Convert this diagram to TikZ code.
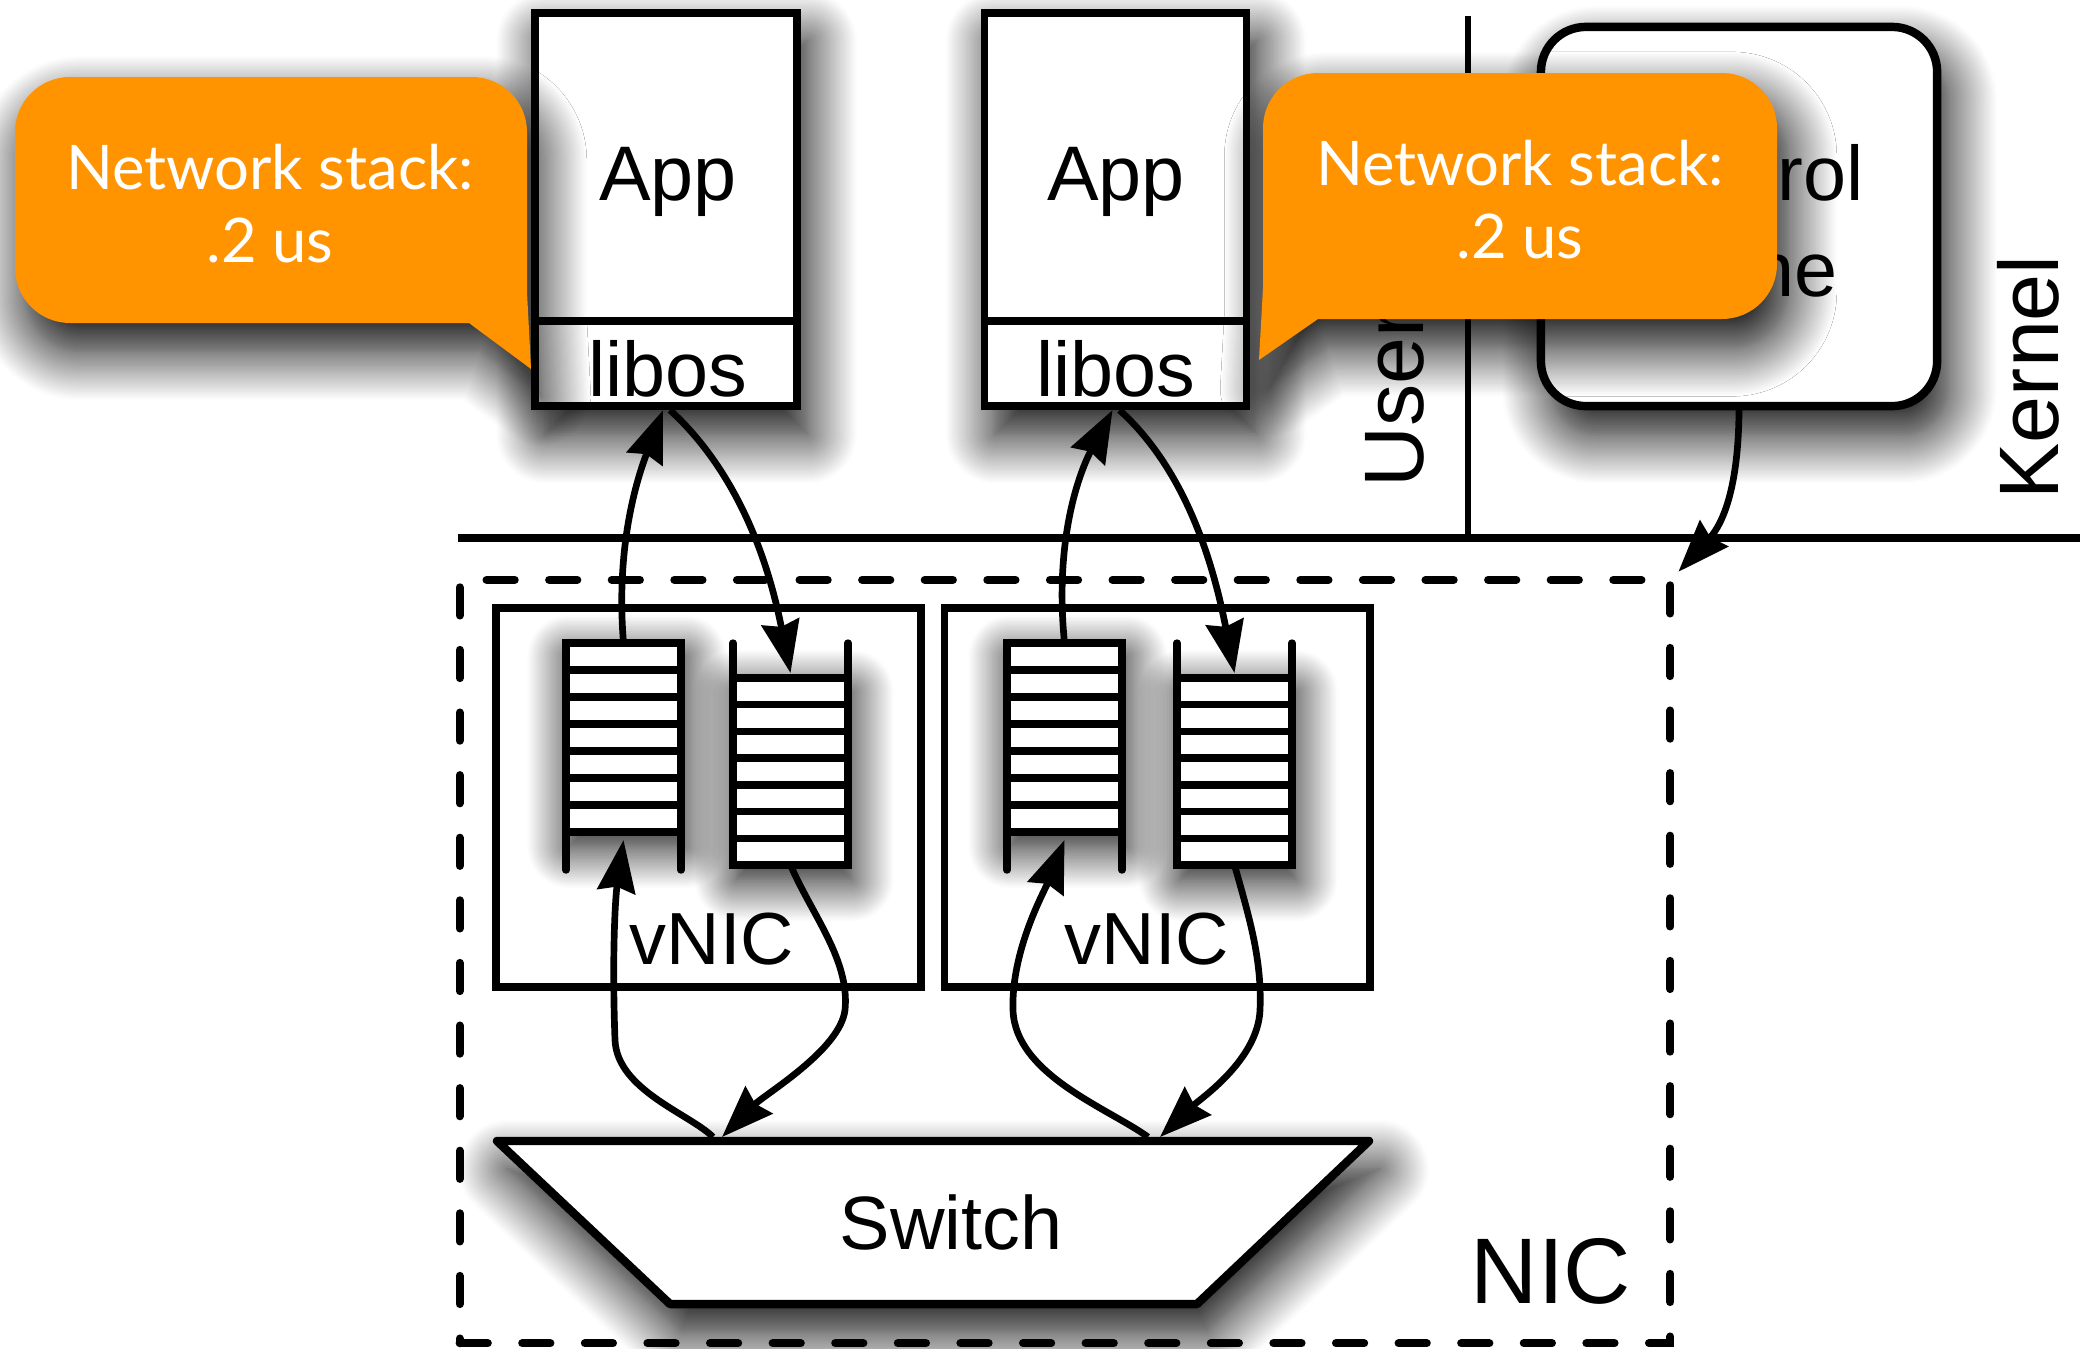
\documentclass[tikz,border=0pt]{standalone}
\usepackage{fontspec}
\setmainfont{Liberation Sans}
\newfontfamily\notefont{Lato}
\usetikzlibrary{arrows.meta,positioning,calc,shadows.blur}
\definecolor{noteorange}{RGB}{255,147,0}

\begin{document}
\begin{tikzpicture}[x=0.01cm, y=-0.01cm,
  softshadow/.style={blur shadow={shadow xshift=3pt, shadow yshift=-8pt, shadow blur radius=14pt, shadow blur steps=24, shadow opacity=100}},
  qshadow/.style={blur shadow={shadow xshift=1pt, shadow yshift=-4pt, shadow blur radius=12pt, shadow blur steps=24, shadow opacity=100}},
  boxline/.style={line width=2.2pt},
  appbox/.style={boxline, draw, fill=white, minimum width=2.62cm, minimum height=3.93cm, inner sep=0pt, outer sep=0pt, softshadow},
  ctlbox/.style={line width=2.4pt, draw, fill=white, rounded corners=0.45cm, minimum width=3.96cm, minimum height=3.79cm, outer sep=0pt, softshadow},
  vnicbox/.style={boxline, draw, minimum width=4.25cm, minimum height=3.79cm, inner sep=0pt},
  nicbox/.style={line width=2.3pt, draw, dash pattern=on 8pt off 9.8pt, line cap=round, minimum width=12.1cm, minimum height=7.63cm, inner sep=0pt},
  qline/.style={line width=2.1pt},
  flow/.style={line width=1.9pt, draw=black, -{Stealth[length=5.2mm, width=3.8mm, inset=0.5mm, fill=black]}},
  callout/.style={fill=noteorange, softshadow},
  lbl/.style={font=\fontsize{22}{26}\selectfont, inner sep=0pt},
  sidelbl/.style={font=\fontsize{24}{28}\selectfont, inner sep=0pt, rotate=90, anchor=base west},
  notetext/.style={font=\notefont\fontsize{17.5}{20.8}\selectfont, text=white, align=center}
]
  \useasboundingbox (0,0) rectangle (2080,1348);

  % NIC frame and user/kernel boundaries
  \node[nicbox] (nic) at (1065,961.5) {};
  \draw[line width=2.2pt] (458,538) -- (2080,538);
  \draw[line width=1.6pt] (1468,16) -- (1468,538);

  % vNICs
  \node[vnicbox] (vnic1) at (708.5,797.5) {};
  \node[vnicbox] (vnic2) at (1157,797.5) {};

  % receive queues (filled from the top)
  \foreach \q/\x in {rxa/566, rxb/1007} {
    \fill[white, qshadow] (\x,643) rectangle ++(115,189);
    \foreach \k in {1,...,7}
      \draw[qline] (\x,643+27*\k) -- ++(115,0);
    \draw[qline, line cap=round] (\x,870) -- (\x,643) -- (\x+115,643) -- (\x+115,870);
    \coordinate (\q-out) at (\x+57.5,643);
    \coordinate (\q-in) at (\x+57.5,840);
  }
  % transmit queues (filled from the bottom)
  \foreach \q/\x in {txa/733, txb/1177} {
    \fill[white, qshadow] (\x,678) rectangle ++(115,187);
    \foreach \k in {0,...,6}
      \draw[qline] (\x,678+26.7*\k) -- ++(115,0);
    \draw[qline, line cap=round] (\x,643) -- (\x,865) -- (\x+115,865) -- (\x+115,643);
    \coordinate (\q-in) at (\x+57.5,673);
    \coordinate (\q-out) at (\x+57.5,865);
  }

  % switch
  \filldraw[line width=2.4pt, line join=round, fill=white, softshadow] (497,1141) -- (1369,1141) -- (1197,1304) -- (670,1304) -- cycle;
  \node[lbl, font=\fontsize{21.5}{26}\selectfont, anchor=base] (sw) at (951,1249) {Switch};
  \coordinate (sw-a) at (713,1137);
  \coordinate (sw-b) at (722,1137);
  \coordinate (sw-c) at (1148,1137);
  \coordinate (sw-d) at (1160,1137);

  % applications
  \node[appbox] (app1) at (666,209.5) {};
  \node[appbox] (app2) at (1115.5,209.5) {};
  \foreach \a in {app1, app2}
    \draw[boxline] (\a.south west) ++(0,-85) -- ++(262,0);
  \node[lbl, anchor=base] (app1-txt) at (668,200) {App};
  \node[lbl, anchor=base] (lib1) at (668,396) {libos};
  \node[lbl, anchor=base] (app2-txt) at (1116,200) {App};
  \node[lbl, anchor=base] (lib2) at (1116,396) {libos};

  % control plane
  \node[ctlbox] (ctl) at (1739,216.5) {};
  \node[lbl, anchor=base] (ctl-t1) at (1739,200) {Control};
  \node[lbl, anchor=base] (ctl-t2) at (1739,296) {Plane};

  \node[sidelbl] (user) at (1423,488) {User};
  \node[sidelbl] (kernel) at (2058,500) {Kernel};

  % callouts
  \fill[callout] (270,77) [rounded corners=0.55cm] -- (15,77) -- (15,323) -- (400,323) [sharp corners] -- (469,323) -- (531,369) -- (527,292) -- (527,200) [rounded corners=0.55cm] -- (527,77) -- cycle;
  \node[notetext] (note1) at (270,204) {Network stack:\\.2 us};
  \fill[callout] (1520,73) [rounded corners=0.55cm] -- (1777,73) -- (1777,319) -- (1400,319) [sharp corners] -- (1318,319) -- (1259,360) -- (1263,288) -- (1263,200) [rounded corners=0.55cm] -- (1263,73) -- cycle;
  \node[notetext] (note2) at (1520,200) {Network stack:\\.2 us};

  % data paths
  \draw[flow] (rxa-out) .. controls +(-8.5,-103) and +(-23,61) .. ($(app1.south)+(-3,4)$);
  \draw[flow] ($(app1.south)+(4,4)$) .. controls +(45,41) and +(-30.5,-153) .. (txa-in);
  \draw[flow] (sw-a) .. controls +(-23,-23) and +(2,50) .. (615,1040) .. controls +(-3,-80) and +(-8.5,60) .. (rxa-in);
  \draw[flow] (txa-out) .. controls +(21.5,50) and +(5,-50) .. (845,1010) .. controls +(-5,40) and +(43,-43) .. (sw-b);

  \draw[flow] (rxb-out) .. controls +(-10.5,-105) and +(-32.5,61) .. ($(app2.south)+(-3,4)$);
  \draw[flow] ($(app2.south)+(4,4)$) .. controls +(45.5,41) and +(-29.5,-153) .. (txb-in);
  \draw[flow] (sw-c) .. controls +(-38,-28) and +(2,65) .. (1013,1010) .. controls +(-2,-60) and +(-19.5,50) .. (rxb-in);
  \draw[flow] (txb-out) .. controls +(15.5,55) and +(2,-50) .. (1260,1010) .. controls +(-2,50) and +(40,-38) .. (sw-d);

  \draw[flow] (ctl.south) .. controls +(0,94) and +(39,-42) .. ($(nic.north east)+(4,-4)$);

  % labels
  \node[lbl, font=\fontsize{21}{26}\selectfont, anchor=base] (vnic1-txt) at (712,964) {vNIC};
  \node[lbl, font=\fontsize{21}{26}\selectfont, anchor=base] (vnic2-txt) at (1147,964) {vNIC};
  \node[lbl, font=\fontsize{26.5}{30}\selectfont, anchor=base west] (nic-txt) at (1470,1303) {NIC};
\end{tikzpicture}
\end{document}
